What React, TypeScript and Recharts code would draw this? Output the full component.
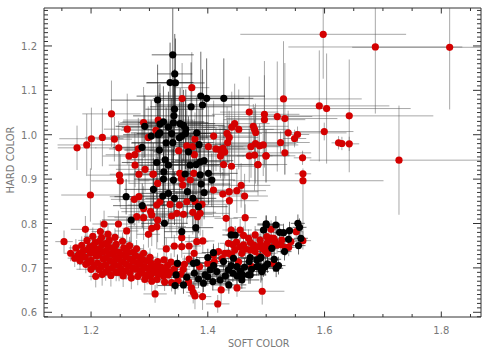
import { ErrorBar, Scatter, ScatterChart, XAxis, YAxis } from 'recharts';

type Err = number | [number, number];
type Pt = [number, number, Err, Err];

const X_MAJOR = [1.2, 1.4, 1.6, 1.8];
const X_TICKS = [1.15, 1.2, 1.25, 1.3, 1.35, 1.4, 1.45, 1.5, 1.55, 1.6, 1.65, 1.7, 1.75, 1.8, 1.85];
const Y_MAJOR = [0.6, 0.7, 0.8, 0.9, 1.0, 1.1, 1.2];
const Y_TICKS = [
  0.59, 0.6, 0.61, 0.62, 0.63, 0.64, 0.65, 0.66, 0.67, 0.68, 0.69, 0.7, 0.71, 0.72, 0.73, 0.74, 0.75, 0.76, 0.77,
  0.78, 0.79, 0.8, 0.81, 0.82, 0.83, 0.84, 0.85, 0.86, 0.87, 0.88, 0.89, 0.9, 0.91, 0.92, 0.93, 0.94, 0.95, 0.96,
  0.97, 0.98, 0.99, 1.0, 1.01, 1.02, 1.03, 1.04, 1.05, 1.06, 1.07, 1.08, 1.09, 1.1, 1.11, 1.12, 1.13, 1.14, 1.15,
  1.16, 1.17, 1.18, 1.19, 1.2, 1.21, 1.22, 1.23, 1.24, 1.25, 1.26, 1.27, 1.28,
];

// soft, hard, soft error, hard error ([low, high] where the bar is lopsided or runs into the frame)
const redOutliers: Pt[] = [
  [1.5977, 1.2262, [0.142, 0.142], [0.1, 0.059]],
  [1.687, 1.1977, [0.149, 0.149], [0.15, 0.088]],
  [1.8143, 1.197, [0.167, 0.053], [0.14, 0.088]],
  [1.7275, 0.9427, [0.153, 0.14], 0.123],
  [1.6423, 1.0425, [0.14, 0.144], 0.127],
  [1.6035, 1.059, [0.13, 0.144], 0.124],
  [1.591, 1.065, [0.12, 0.12], 0.125],
  [1.5297, 1.0807, 0.134, 0.13],
  [1.532, 1.0365, [0.1, 0.09], 0.125],
  [1.519, 1.041, [0.09, 0.06], 0.124],
  [1.497, 1.046, [0.09, 0.06], 0.12],
  [1.5995, 1.0072, 0.05, 0.02],
  [1.5377, 1.0042, [0.04, 0.1], 0.05],
  [1.5537, 1.0005, 0.02, 0.018],
  [1.5486, 0.9915, 0.02, 0.02],
  [1.5246, 0.9825, 0.05, 0.025],
  [1.624, 0.9818, 0.012, 0.015],
  [1.6297, 0.9803, 0.012, 0.015],
  [1.6423, 0.9795, 0.017, 0.016],
  [1.532, 0.9592, 0.045, 0.05],
  [1.4995, 0.9525, 0.04, 0.06],
  [1.5623, 0.948, 0.015, 0.016],
  [1.4857, 0.9323, 0.035, 0.045],
  [1.563, 0.912, 0.014, 0.012],
  [1.563, 0.8964, [0.12, 0.138], [0.133, 0.02]],
  [1.4932, 0.6474, 0.038, 0.03],
];

const redUpper: Pt[] = [
  [1.3726, 1.106, 0.03, 0.08], [1.235, 1.047, 0.05, 0.075], [1.262, 1.0125, 0.04, 0.08], [1.176, 0.9705, 0.033, 0.05],
  [1.1926, 0.977, 0.05, 0.07], [1.2006, 0.991, 0.055, 0.07], [1.2194, 0.994, 0.03, 0.065], [1.24, 0.99, 0.03, 0.05],
  [1.2474, 0.9705, 0.04, 0.06], [1.281, 0.968, 0.05, 0.07], [1.265, 0.952, 0.045, 0.06], [1.275, 0.955, 0.05, 0.05],
  [1.2754, 0.9315, 0.045, 0.05], [1.2486, 0.909, 0.055, 0.06], [1.282, 0.911, 0.05, 0.07], [1.2926, 0.922, 0.05, 0.05],
  [1.306, 0.911, 0.04, 0.07], [1.356, 1.0815, 0.05, 0.08], [1.29, 1.0275, 0.04, 0.08], [1.315, 1.033, 0.06, 0.08],
  [1.311, 1.01, 0.06, 0.08], [1.298, 0.994, 0.06, 0.07], [1.41, 0.997, 0.07, 0.08], [1.471, 1.051, 0.05, 0.08],
  [1.497, 1.034, 0.07, 0.1], [1.446, 1.025, 0.06, 0.09], [1.441, 1.017, 0.05, 0.08], [1.453, 1.012, 0.06, 0.09],
  [1.478, 1.019, 0.06, 0.05], [1.48, 1.012, 0.06, 0.05], [1.482, 1.005, 0.05, 0.05], [1.433, 1.003, 0.06, 0.06],
  [1.4366, 0.994, 0.05, 0.06], [1.434, 0.982, 0.06, 0.05], [1.426, 0.9695, 0.05, 0.05], [1.421, 0.966, 0.05, 0.05],
  [1.429, 0.961, 0.06, 0.06], [1.414, 0.968, 0.05, 0.05], [1.4217, 0.952, 0.04, 0.05], [1.427, 0.933, 0.05, 0.05],
  [1.4406, 0.929, 0.05, 0.05], [1.486, 0.933, 0.05, 0.07], [1.471, 0.9525, 0.04, 0.06], [1.48, 0.954, 0.06, 0.08],
  [1.5, 0.9525, 0.05, 0.06], [1.474, 0.973, 0.05, 0.07], [1.4817, 0.98, 0.07, 0.09], [1.4886, 0.975, 0.05, 0.05],
  [1.495, 0.977, 0.06, 0.07], [1.401, 0.973, 0.06, 0.09], [1.35, 0.964, 0.05, 0.08], [1.377, 0.955, 0.05, 0.08],
  [1.364, 0.975, 0.05, 0.08], [1.374, 0.973, 0.05, 0.06], [1.378, 0.99, 0.05, 0.06],
  [1.25, 0.896, 0.05, 0.06], [1.307, 0.9114, 0.05, 0.07], [1.314, 0.8904, 0.05, 0.06], [1.357, 0.8866, 0.05, 0.06],
  [1.355, 0.9016, 0.05, 0.06], [1.352, 0.913, 0.05, 0.07], [1.37, 0.898, 0.04, 0.06], [1.376, 0.913, 0.05, 0.07],
  [1.4097, 0.8754, 0.05, 0.06], [1.4257, 0.8664, 0.04, 0.05], [1.4366, 0.8717, 0.05, 0.06], [1.4497, 0.8739, 0.05, 0.05],
  [1.4571, 0.8859, 0.05, 0.05], [1.463, 0.8619, 0.04, 0.05], [1.437, 0.8514, 0.05, 0.06], [1.1989, 0.8642, 0.05, 0.06],
  [1.274, 0.8544, 0.04, 0.06], [1.282, 0.8604, 0.05, 0.06], [1.3126, 0.8417, 0.05, 0.06], [1.318, 0.849, 0.05, 0.05],
  [1.3354, 0.843, 0.04, 0.06], [1.3514, 0.8417, 0.05, 0.05], [1.364, 0.849, 0.04, 0.05], [1.378, 0.849, 0.05, 0.05],
  [1.39, 0.8432, 0.05, 0.05], [1.302, 0.8267, 0.05, 0.05], [1.29, 0.834, 0.04, 0.05], [1.2783, 0.8154, 0.05, 0.05],
  [1.29, 0.8132, 0.05, 0.05], [1.304, 0.8192, 0.04, 0.05], [1.314, 0.8079, 0.04, 0.05], [1.304, 0.7892, 0.05, 0.04],
  [1.3126, 0.7929, 0.05, 0.05], [1.338, 0.8169, 0.04, 0.05], [1.3469, 0.8229, 0.04, 0.05], [1.3583, 0.8207, 0.05, 0.05],
  [1.3743, 0.8252, 0.04, 0.05], [1.3869, 0.8229, 0.05, 0.05], [1.3823, 0.8154, 0.04, 0.05], [1.4314, 0.8117, 0.02, 0.03],
  [1.464, 0.8132, 0.02, 0.03], [1.44, 0.7854, 0.015, 0.025], [1.4554, 0.7854, 0.02, 0.025], [1.3554, 0.7682, 0.03, 0.03],
  [1.2983, 0.7757, 0.02, 0.03], [1.261, 0.7832, 0.02, 0.03], [1.2223, 0.7989, 0.02, 0.03], [1.2469, 0.7989, 0.03, 0.03],
  [1.1903, 0.7869, 0.025, 0.03], [1.1537, 0.7592, 0.015, 0.025], [1.3289, 0.7427, 0.015, 0.025], [1.3426, 0.7494, 0.02, 0.025],
  [1.3554, 0.7479, 0.02, 0.025], [1.368, 0.7494, 0.02, 0.025], [1.3811, 0.7592, 0.02, 0.025], [1.3914, 0.7607, 0.02, 0.025],
  [1.3766, 0.7329, 0.02, 0.025],
];

const redBlob: Pt[] = [
  [1.165, 0.733, 0.012, 0.018], [1.172, 0.722, 0.012, 0.02], [1.174, 0.745, 0.012, 0.02], [1.18, 0.732, 0.015, 0.018],
  [1.181, 0.716, 0.012, 0.02], [1.184, 0.751, 0.012, 0.02], [1.187, 0.739, 0.015, 0.02], [1.19, 0.724, 0.012, 0.02],
  [1.191, 0.708, 0.012, 0.02], [1.193, 0.762, 0.015, 0.02], [1.198, 0.748, 0.015, 0.02], [1.199, 0.733, 0.012, 0.02],
  [1.2, 0.717, 0.012, 0.02], [1.203, 0.771, 0.015, 0.02], [1.207, 0.757, 0.012, 0.025], [1.208, 0.742, 0.012, 0.02],
  [1.209, 0.727, 0.015, 0.02], [1.211, 0.711, 0.012, 0.02], [1.208, 0.681, 0.012, 0.025], [1.216, 0.782, 0.015, 0.025],
  [1.218, 0.768, 0.012, 0.02], [1.219, 0.752, 0.015, 0.02], [1.22, 0.736, 0.012, 0.02], [1.221, 0.72, 0.015, 0.02],
  [1.218, 0.704, 0.012, 0.025], [1.219, 0.685, 0.012, 0.025], [1.229, 0.776, 0.015, 0.025], [1.231, 0.762, 0.012, 0.02],
  [1.23, 0.747, 0.015, 0.02], [1.232, 0.731, 0.012, 0.02], [1.233, 0.715, 0.012, 0.02], [1.23, 0.698, 0.012, 0.02],
  [1.234, 0.683, 0.015, 0.025], [1.241, 0.769, 0.015, 0.02], [1.243, 0.753, 0.012, 0.02], [1.242, 0.738, 0.012, 0.02],
  [1.244, 0.722, 0.015, 0.02], [1.241, 0.706, 0.012, 0.02], [1.243, 0.69, 0.012, 0.02], [1.254, 0.76, 0.015, 0.02],
  [1.256, 0.745, 0.012, 0.02], [1.253, 0.729, 0.015, 0.02], [1.255, 0.713, 0.012, 0.02], [1.252, 0.697, 0.012, 0.02],
  [1.255, 0.682, 0.012, 0.025], [1.266, 0.75, 0.015, 0.02], [1.264, 0.735, 0.012, 0.02], [1.267, 0.72, 0.012, 0.02],
  [1.265, 0.704, 0.015, 0.02], [1.267, 0.689, 0.012, 0.02], [1.269, 0.677, 0.012, 0.025], [1.278, 0.743, 0.012, 0.02],
  [1.276, 0.728, 0.015, 0.02], [1.279, 0.712, 0.012, 0.02], [1.277, 0.697, 0.012, 0.02], [1.28, 0.681, 0.012, 0.02],
  [1.29, 0.733, 0.012, 0.02], [1.289, 0.718, 0.012, 0.02], [1.291, 0.703, 0.015, 0.02], [1.288, 0.688, 0.012, 0.02],
  [1.292, 0.674, 0.012, 0.025], [1.301, 0.724, 0.012, 0.02], [1.303, 0.71, 0.015, 0.02], [1.3, 0.696, 0.012, 0.02],
  [1.302, 0.682, 0.012, 0.02], [1.304, 0.67, 0.012, 0.025], [1.314, 0.714, 0.012, 0.02], [1.312, 0.7, 0.015, 0.02],
  [1.315, 0.687, 0.012, 0.02], [1.313, 0.674, 0.012, 0.02], [1.325, 0.718, 0.012, 0.02], [1.327, 0.695, 0.012, 0.02],
  [1.324, 0.682, 0.015, 0.02], [1.326, 0.668, 0.012, 0.02], [1.337, 0.713, 0.012, 0.02], [1.335, 0.69, 0.012, 0.02],
  [1.338, 0.667, 0.012, 0.02], [1.348, 0.708, 0.012, 0.02], [1.346, 0.684, 0.012, 0.02], [1.349, 0.671, 0.012, 0.02],
  [1.2, 0.6969, 0.025, 0.025], [1.3097, 0.6414, 0.02, 0.02], [1.378, 0.6369, 0.012, 0.03], [1.391, 0.6354, 0.015, 0.03],
  [1.417, 0.6189, 0.02, 0.02], [1.45, 0.6549, 0.015, 0.02], [1.4229, 0.6504, 0.015, 0.03], [1.367, 0.668, 0.012, 0.02],
  [1.372, 0.655, 0.012, 0.02], [1.375, 0.645, 0.012, 0.025],
  // second pass through the dense part
  [1.177, 0.727, 0.012, 0.02], [1.186, 0.726, 0.012, 0.02], [1.194, 0.741, 0.012, 0.02], [1.195, 0.712, 0.012, 0.02],
  [1.204, 0.735, 0.012, 0.02], [1.204, 0.75, 0.012, 0.02], [1.205, 0.704, 0.012, 0.02], [1.214, 0.743, 0.012, 0.02],
  [1.214, 0.729, 0.012, 0.02], [1.214, 0.76, 0.012, 0.02], [1.214, 0.696, 0.012, 0.02], [1.225, 0.755, 0.012, 0.02],
  [1.226, 0.739, 0.012, 0.02], [1.226, 0.723, 0.012, 0.02], [1.225, 0.707, 0.012, 0.02], [1.225, 0.691, 0.012, 0.02],
  [1.237, 0.745, 0.012, 0.02], [1.237, 0.73, 0.012, 0.02], [1.238, 0.714, 0.012, 0.02], [1.236, 0.699, 0.012, 0.02],
  [1.248, 0.735, 0.012, 0.02], [1.248, 0.72, 0.012, 0.02], [1.248, 0.705, 0.012, 0.02], [1.248, 0.69, 0.012, 0.02],
  [1.26, 0.74, 0.012, 0.02], [1.26, 0.725, 0.012, 0.02], [1.26, 0.708, 0.012, 0.02], [1.26, 0.693, 0.012, 0.02],
  [1.272, 0.735, 0.012, 0.02], [1.272, 0.715, 0.012, 0.02], [1.272, 0.7, 0.012, 0.02], [1.284, 0.725, 0.012, 0.02],
  [1.284, 0.708, 0.012, 0.02], [1.284, 0.693, 0.012, 0.02], [1.296, 0.716, 0.012, 0.02], [1.295, 0.7, 0.012, 0.02],
  [1.296, 0.683, 0.012, 0.02], [1.307, 0.704, 0.012, 0.02], [1.308, 0.69, 0.012, 0.02], [1.32, 0.702, 0.012, 0.02],
  [1.32, 0.689, 0.012, 0.02], [1.331, 0.705, 0.012, 0.02], [1.332, 0.684, 0.012, 0.02], [1.342, 0.697, 0.012, 0.02],
  [1.358, 0.697, 0.012, 0.02], [1.354, 0.686, 0.012, 0.02], [1.36, 0.708, 0.012, 0.02], [1.368, 0.72, 0.012, 0.02],
];

const redRight: Pt[] = [
  [1.4, 0.71, 0.02, 0.02], [1.386, 0.703, 0.02, 0.02], [1.411, 0.714, 0.015, 0.02], [1.4246, 0.7209, 0.015, 0.02],
  [1.4097, 0.7284, 0.015, 0.02], [1.4183, 0.7367, 0.015, 0.02], [1.4291, 0.7329, 0.015, 0.02], [1.4406, 0.7292, 0.015, 0.02],
  [1.4583, 0.7329, 0.015, 0.02], [1.4463, 0.7404, 0.015, 0.02], [1.4611, 0.7517, 0.015, 0.02], [1.4354, 0.7554, 0.015, 0.02],
  [1.4491, 0.7584, 0.015, 0.02], [1.4611, 0.7734, 0.015, 0.02], [1.4697, 0.7667, 0.015, 0.02], [1.4811, 0.7742, 0.015, 0.02],
  [1.4897, 0.7629, 0.015, 0.02], [1.4783, 0.7517, 0.015, 0.02], [1.4903, 0.7517, 0.015, 0.02], [1.4989, 0.7479, 0.015, 0.02],
  [1.5011, 0.7554, 0.015, 0.02], [1.4989, 0.7367, 0.015, 0.02], [1.4886, 0.7254, 0.015, 0.02], [1.4726, 0.7404, 0.015, 0.02],
  [1.4811, 0.7367, 0.015, 0.02], [1.5011, 0.7704, 0.015, 0.02], [1.5086, 0.767, 0.015, 0.02], [1.5023, 0.7329, 0.015, 0.02],
  [1.4897, 0.7479, 0.015, 0.02], [1.5086, 0.7464, 0.015, 0.02], [1.5155, 0.7592, 0.015, 0.02], [1.5186, 0.7517, 0.015, 0.02],
  [1.5326, 0.7464, 0.015, 0.02], [1.5269, 0.7629, 0.015, 0.02], [1.5386, 0.7464, 0.012, 0.02], [1.5423, 0.7592, 0.012, 0.02],
  [1.5084, 0.7869, 0.015, 0.02], [1.5515, 0.7816, 0.012, 0.02], [1.5629, 0.7614, 0.014, 0.02], [1.513, 0.7667, 0.015, 0.02],
  [1.4755, 0.7029, 0.012, 0.02], [1.5126, 0.7104, 0.012, 0.02], [1.4526, 0.7134, 0.015, 0.02], [1.4354, 0.7329, 0.012, 0.02],
  [1.4647, 0.7425, 0.015, 0.02], [1.4729, 0.7575, 0.015, 0.02], [1.4829, 0.7475, 0.015, 0.02], [1.4947, 0.7425, 0.015, 0.02],
  [1.4547, 0.7475, 0.015, 0.02], [1.5047, 0.7625, 0.015, 0.02], [1.4429, 0.7525, 0.015, 0.02], [1.5247, 0.7525, 0.015, 0.02],
];

const blackUpper: Pt[] = [
  [1.34, 1.18, 0.036, [0.12, 0.105]], [1.3434, 1.137, 0.03, 0.09], [1.3354, 1.1175, 0.04, 0.09], [1.3446, 1.1167, 0.05, 0.1],
  [1.314, 1.078, 0.08, 0.08], [1.388, 1.087, 0.11, 0.1], [1.398, 1.082, 0.08, 0.09], [1.4274, 1.082, 0.035, 0.09],
  [1.391, 1.067, 0.08, 0.08], [1.3714, 1.063, 0.07, 0.1], [1.343, 1.0575, 0.05, 0.09], [1.342, 1.0425, 0.07, 0.09],
  [1.324, 1.029, 0.07, 0.08], [1.318, 1.024, 0.07, 0.09], [1.292, 1.019, 0.05, 0.07], [1.303, 0.997, 0.07, 0.08],
  [1.315, 1.0, 0.06, 0.08], [1.318, 1.004, 0.05, 0.09], [1.3326, 1.017, 0.08, 0.08], [1.3411, 1.027, 0.06, 0.09],
  [1.3583, 1.021, 0.07, 0.08], [1.3526, 1.025, 0.06, 0.08], [1.338, 1.0025, 0.06, 0.08], [1.3623, 1.012, 0.07, 0.09],
  [1.3617, 1.003, 0.05, 0.08], [1.3554, 0.997, 0.06, 0.08], [1.3514, 0.993, 0.05, 0.08], [1.381, 1.004, 0.06, 0.08],
  [1.3286, 0.9815, 0.06, 0.08], [1.34, 0.982, 0.07, 0.08], [1.2874, 0.9717, 0.05, 0.06], [1.3171, 0.9655, 0.06, 0.07],
  [1.3669, 0.9615, 0.06, 0.08], [1.3851, 0.9775, 0.05, 0.08], [1.3126, 0.9375, 0.06, 0.08], [1.3269, 0.9435, 0.06, 0.08],
  [1.3937, 0.9415, 0.05, 0.07], [1.3326, 0.9315, 0.05, 0.08], [1.3697, 0.9315, 0.05, 0.07], [1.38, 0.933, 0.05, 0.07],
  [1.3869, 0.939, 0.05, 0.07], [1.3246, 0.9165, 0.05, 0.07], [1.3611, 0.9115, 0.05, 0.07], [1.3869, 0.9095, 0.05, 0.07],
  [1.4011, 0.913, 0.05, 0.07], [1.324, 0.9, 0.05, 0.06], [1.4069, 0.8979, 0.04, 0.06], [1.3411, 0.8979, 0.06, 0.07],
  [1.3069, 0.8769, 0.05, 0.07], [1.3229, 0.8619, 0.05, 0.06], [1.3326, 0.8679, 0.05, 0.07],
  [1.3429, 0.8567, 0.05, 0.06], [1.3651, 0.8717, 0.05, 0.06], [1.3746, 0.8567, 0.04, 0.06], [1.3937, 0.8694, 0.05, 0.06],
  [1.384, 0.8379, 0.05, 0.06], [1.3886, 0.8889, 0.05, 0.06], [1.2601, 0.8604, 0.02, 0.04], [1.2877, 0.8402, 0.05, 0.05],
  [1.2686, 0.8079, 0.05, 0.05], [1.3257, 0.8004, 0.04, 0.05], [1.3554, 0.7816, 0.03, 0.04], [1.3794, 0.7907, 0.03, 0.05],
  [1.4469, 0.7741, 0.015, 0.02],
];

const blackLower: Pt[] = [
  [1.344, 0.6602, 0.03, 0.02], [1.3457, 0.6842, 0.03, 0.02], [1.348, 0.7104, 0.02, 0.02], [1.3583, 0.6617, 0.03, 0.02],
  [1.364, 0.6789, 0.03, 0.02], [1.3754, 0.7104, 0.03, 0.02], [1.3811, 0.7119, 0.03, 0.02], [1.3926, 0.6654, 0.04, 0.02],
  [1.3954, 0.6842, 0.03, 0.02], [1.404, 0.6954, 0.03, 0.02], [1.4097, 0.7344, 0.02, 0.02], [1.4, 0.7232, 0.02, 0.02],
  [1.4086, 0.6692, 0.03, 0.02], [1.4211, 0.6729, 0.04, 0.02], [1.4154, 0.6917, 0.03, 0.02], [1.4269, 0.7142, 0.02, 0.02],
  [1.4354, 0.6954, 0.03, 0.02], [1.444, 0.7217, 0.03, 0.02], [1.4497, 0.7029, 0.03, 0.02], [1.436, 0.6617, 0.03, 0.02],
  [1.4583, 0.6729, 0.03, 0.02], [1.4703, 0.6842, 0.03, 0.02], [1.4709, 0.7142, 0.02, 0.02], [1.484, 0.7029, 0.03, 0.02],
  [1.4897, 0.7217, 0.03, 0.02], [1.4954, 0.7, 0.03, 0.02], [1.4726, 0.7232, 0.02, 0.02],
  [1.384, 0.675, 0.02, 0.02], [1.377, 0.688, 0.02, 0.02], [1.4, 0.68, 0.02, 0.02], [1.43, 0.682, 0.02, 0.02],
  [1.443, 0.688, 0.02, 0.02], [1.456, 0.693, 0.02, 0.02], [1.463, 0.702, 0.02, 0.02], [1.44, 0.705, 0.02, 0.02],
  [1.45, 0.682, 0.02, 0.02], [1.41, 0.705, 0.02, 0.02], [1.475, 0.697, 0.02, 0.02], [1.46, 0.684, 0.02, 0.02],
  [1.44, 0.7742, 0.015, 0.02], [1.4954, 0.7854, 0.015, 0.02], [1.5, 0.7967, 0.015, 0.02],
  [1.5, 0.799, 0.015, 0.02], [1.5166, 0.7967, 0.012, 0.02],
  [1.5229, 0.7802, 0.012, 0.02], [1.5297, 0.7794, 0.012, 0.02], [1.54, 0.7839, 0.012, 0.02],
  [1.5543, 0.8004, 0.012, 0.02], [1.5571, 0.7914, 0.012, 0.02], [1.5594, 0.7667, 0.012, 0.02], [1.5383, 0.7644, 0.012, 0.02],
  [1.5554, 0.7502, 0.012, 0.02], [1.5314, 0.7367, 0.012, 0.02], [1.5097, 0.7442, 0.012, 0.02], [1.4909, 0.7239, 0.012, 0.02],
  [1.5137, 0.7194, 0.012, 0.02], [1.5211, 0.7052, 0.012, 0.02], [1.5171, 0.6992, 0.012, 0.02], [1.5023, 0.7089, 0.012, 0.02],
  [1.4983, 0.7029, 0.012, 0.02], [1.4909, 0.6969, 0.012, 0.03], [1.4869, 0.7029, 0.012, 0.02], [1.4926, 0.6917, 0.012, 0.02],
  [1.4726, 0.6842, 0.012, 0.02], [1.484, 0.7179, 0.012, 0.02],
];

const toRows = (pts: Pt[]) => pts.map(([x, y, xe, ye]) => ({ x, y, xe, ye }));

const FONT = '"DejaVu Sans", sans-serif';
const AXIS = '#333333';
const BAR = '#555555';
const RED = '#d40000';
const LABEL = '#777777';

function XTick({ x, y, payload, top }: any) {
  const major = X_MAJOR.includes(payload.value);
  const len = major ? 5.5 : 3;
  return (
    <g>
      <line x1={x} x2={x} y1={y} y2={top ? y + len : y - len} stroke={AXIS} />
      {major && !top && (
        <text x={x} y={y + 17} textAnchor="middle" fontSize={10} fontFamily={FONT} fill={LABEL}>
          {payload.value.toFixed(1)}
        </text>
      )}
    </g>
  );
}

function YTick({ x, y, payload, right }: any) {
  const major = Y_MAJOR.includes(payload.value);
  const len = major ? 8 : 4;
  return (
    <g>
      <line x1={x} x2={right ? x - len : x + len} y1={y} y2={y} stroke={AXIS} />
      {major && !right && (
        <text x={x - 7} y={y + 4} textAnchor="end" fontSize={10} fontFamily={FONT} fill={LABEL}>
          {payload.value.toFixed(1)}
        </text>
      )}
    </g>
  );
}

function Dot({ cx, cy, fill }: any) {
  return <circle cx={cx} cy={cy} r={3.6} fill={fill} />;
}

export default function App() {
  const domainX: [number, number] = [1.1194, 1.868];
  const domainY: [number, number] = [0.5894, 1.2855];
  const bars = (stroke: string, opacity: number) => [
    <ErrorBar key="x" dataKey="xe" direction="x" width={0} stroke={stroke} strokeWidth={1} opacity={opacity} isAnimationActive={false} />,
    <ErrorBar key="y" dataKey="ye" direction="y" width={0} stroke={stroke} strokeWidth={1} opacity={opacity} isAnimationActive={false} />,
  ];
  return (
    <div style={{ position: 'fixed', left: 0, top: 0, width: 492, height: 354, background: '#fff' }}>
      <ScatterChart width={492} height={354} margin={{ top: 7, right: 10, bottom: 36, left: 43 }}>
        <XAxis xAxisId="b" type="number" dataKey="x" domain={domainX} ticks={X_TICKS} interval={0} height={1} allowDataOverflow
          tickLine={false} tickSize={0} tickMargin={0} stroke={AXIS} tick={<XTick />} />
        <XAxis xAxisId="t" orientation="top" type="number" dataKey="x" domain={domainX} ticks={X_TICKS} interval={0} height={1} allowDataOverflow
          tickLine={false} tickSize={0} tickMargin={0} stroke={AXIS} tick={<XTick top />} />
        <YAxis yAxisId="l" type="number" dataKey="y" domain={domainY} ticks={Y_TICKS} interval={0} width={1} allowDataOverflow
          tickLine={false} tickSize={0} tickMargin={0} stroke={AXIS} tick={<YTick />} />
        <YAxis yAxisId="r" orientation="right" type="number" dataKey="y" domain={domainY} ticks={Y_TICKS} interval={0} width={1} allowDataOverflow
          tickLine={false} tickSize={0} tickMargin={0} stroke={AXIS} tick={<YTick right />} />
        <Scatter xAxisId="b" yAxisId="l" data={toRows(redOutliers)} fill={RED} shape={<Dot />} isAnimationActive={false}>{bars(BAR, 0.5)}</Scatter>
        <Scatter xAxisId="b" yAxisId="l" data={toRows(redUpper)} fill={RED} shape={<Dot />} isAnimationActive={false}>{bars(BAR, 0.5)}</Scatter>
        <Scatter xAxisId="b" yAxisId="l" data={toRows(redBlob)} fill={RED} shape={<Dot />} isAnimationActive={false}>{bars(BAR, 0.5)}</Scatter>
        <Scatter xAxisId="b" yAxisId="l" data={toRows(redRight)} fill={RED} shape={<Dot />} isAnimationActive={false}>{bars(BAR, 0.5)}</Scatter>
        <Scatter xAxisId="b" yAxisId="l" data={toRows(blackUpper)} fill="#000000" shape={<Dot />} isAnimationActive={false}>{bars('#222222', 0.65)}</Scatter>
        <Scatter xAxisId="b" yAxisId="l" data={toRows(blackLower)} fill="#000000" shape={<Dot />} isAnimationActive={false}>{bars('#222222', 0.65)}</Scatter>
      </ScatterChart>
      <div style={{ position: 'absolute', left: 228, top: 338, fontFamily: FONT, fontSize: 9.6, color: LABEL, whiteSpace: 'nowrap' }}>SOFT COLOR</div>
      <div style={{ position: 'absolute', left: 10, top: 160, fontFamily: FONT, fontSize: 10, color: LABEL, whiteSpace: 'nowrap', transform: 'translate(-50%, -50%) rotate(-90deg)' }}>HARD COLOR</div>
    </div>
  );
}
